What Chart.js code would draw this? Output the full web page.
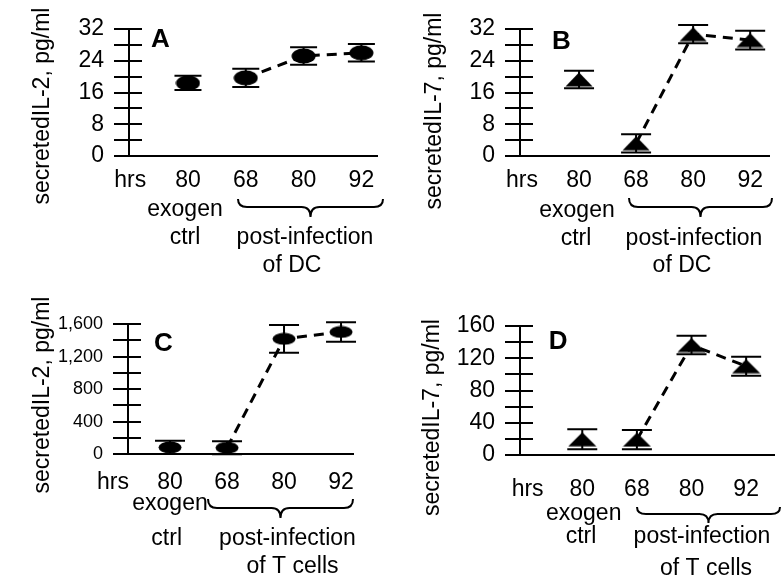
<!DOCTYPE html>
<html>
<head>
<meta charset="utf-8">
<title>Secreted IL-2 / IL-7</title>
<script src="https://cdn.jsdelivr.net/npm/chart.js@4.4.1/dist/chart.umd.min.js"></script>
<style>
  html, body { margin: 0; padding: 0; background: #fff; }
  #figure { position: relative; width: 783px; height: 587px; overflow: hidden; }
  #figure canvas { position: absolute; }
</style>
</head>
<body>
<div id="figure">
  <canvas id="panelA" width="392" height="290" style="left:0;top:0;width:392px;height:290px"></canvas>
  <canvas id="panelB" width="391" height="290" style="left:392px;top:0;width:391px;height:290px"></canvas>
  <canvas id="panelC" width="392" height="297" style="left:0;top:290px;width:392px;height:297px"></canvas>
  <canvas id="panelD" width="391" height="297" style="left:392px;top:290px;width:391px;height:297px"></canvas>
</div>
<script>
const FONT = '"Liberation Sans", Arial, Helvetica, sans-serif';

// x categories (index 0 is the "hrs" caption)
const hourLabels = ['hrs', '80', '68', '80', '92'];
const sampleIndex = [1, 2, 3, 4];          // exogen ctrl, 68 h, 80 h, 92 h
const postInfectionIndex = [2, 3, 4];      // points joined by the dashed line

// A - IL-2, infected DC
const il2DcMeans = [18.4, 19.7, 25.2, 26.0];
const il2DcErrors = [1.8, 2.3, 2.2, 2.2];
const il2DcTicks = [0, 8, 16, 24, 32];

// B - IL-7, infected DC
const il7DcMeans = [19.3, 3.2, 30.7, 29.2];
const il7DcErrors = [2.2, 2.3, 2.3, 2.35];
const il7DcTicks = [0, 8, 16, 24, 32];

// C - IL-2, infected T cells
const il2TMeans = [85, 80, 1418, 1502];
const il2TErrors = [80, 80, 170, 119];
const il2TTicks = [0, 400, 800, 1200, 1600];

// D - IL-7, infected T cells
const il7TMeans = [19.5, 19, 136.4, 110.1];
const il7TErrors = [12.4, 12, 11.5, 11.8];
const il7TTicks = [0, 40, 80, 120, 160];

const ctrlText = ['exogen', 'ctrl'];
const dcText = ['post-infection', 'of DC'];
const tCellText = ['post-infection', 'of T cells'];

Chart.defaults.font.family = FONT;
Chart.defaults.color = '#000';

function makeMarker(kind, w, h) {
    const c = document.createElement('canvas');
    c.width = w;
    c.height = h;
    const g = c.getContext('2d');
    g.fillStyle = '#000';
    g.beginPath();
    if (kind === 'ellipse') {
        g.ellipse(w / 2, h / 2, w / 2 - 0.5, h / 2 - 0.5, 0, 0, Math.PI * 2);
    } else {
        g.moveTo(w / 2, 0.5);
        g.lineTo(w - 0.5, h - 0.5);
        g.lineTo(0.5, h - 0.5);
        g.closePath();
    }
    g.fill();
    return c;
}

// layout: area = [left, top, right, bottom] of the plot box inside each canvas
const panels = [
    {
        id: 'panelA', letter: 'A', yTitle: 'secretedIL-2, pg/ml',
        means: il2DcMeans, errors: il2DcErrors, yTicks: il2DcTicks, yStep: 4, yFont: 23,
        marker: makeMarker('ellipse', 25, 16), cap: 27, group: dcText,
        w: 392, h: 290, area: [129, 29, 377, 156], xMin: -0.02, xMax: 4.27, tickPad: 10.5,
        title: [43, 106], letterPos: [151, 47],
        exo: [185, 216], ctrl: [185, 244], post: [305, 244], of: [292, 271.5],
        brace: [238, 383, 199, 207, 217]
    },
    {
        id: 'panelB', letter: 'B', yTitle: 'secretedIL-7, pg/ml',
        means: il7DcMeans, errors: il7DcErrors, yTicks: il7DcTicks, yStep: 4, yFont: 23,
        marker: makeMarker('triangle', 28, 15), cap: 30, group: dcText,
        w: 391, h: 290, area: [128, 29, 377, 156], xMin: -0.035, xMax: 4.33, tickPad: 10.5,
        title: [42.5, 111], letterPos: [160, 49.3],
        exo: [185, 216.7], ctrl: [184, 245], post: [302, 245], of: [290, 271.7],
        brace: [237, 380, 198, 207, 217]
    },
    {
        id: 'panelC', letter: 'C', yTitle: 'secretedIL-2, pg/ml',
        means: il2TMeans, errors: il2TErrors, yTicks: il2TTicks, yStep: 200, yFont: 18,
        marker: makeMarker('ellipse', 24, 13), cap: 30, group: tCellText,
        w: 392, h: 297, area: [128, 34, 353, 164.3], xMin: 0.263, xMax: 4.21, tickPad: 14.4,
        title: [43, 105], letterPos: [154, 61.3],
        exo: [170, 220], ctrl: [166.7, 255], post: [287.5, 255], of: [292.5, 283.3],
        brace: [208, 353, 209, 218, 228]
    },
    {
        id: 'panelD', letter: 'D', yTitle: 'secretedIL-7, pg/ml',
        means: il7TMeans, errors: il7TErrors, yTicks: il7TTicks, yStep: 20, yFont: 23,
        marker: makeMarker('triangle', 29, 15), cap: 30, group: tCellText,
        w: 391, h: 297, area: [128, 36, 391, 165], xMin: -0.14, xMax: 4.51, tickPad: 20.4,
        title: [41, 127.5], letterPos: [156.7, 59.3],
        exo: [191.7, 230], ctrl: [189, 253.3], post: [310, 253.3], of: [314, 285],
        brace: [245, 388, 217, 224, 233]
    }
];

function panelPlugin(p) {
    return {
        id: 'panelExtras' + p.letter,
        beforeDatasetsDraw(chart) {
            // error bars, under the markers
            const {ctx, scales: {x, y}} = chart;
            ctx.save();
            ctx.strokeStyle = '#000';
            ctx.lineWidth = 2;
            sampleIndex.forEach((xi, i) => {
                const px = x.getPixelForValue(xi);
                const top = y.getPixelForValue(p.means[i] + p.errors[i]);
                const bot = y.getPixelForValue(p.means[i] - p.errors[i]);
                ctx.beginPath();
                ctx.moveTo(px, top);
                ctx.lineTo(px, bot);
                ctx.moveTo(px - p.cap / 2, top);
                ctx.lineTo(px + p.cap / 2, top);
                ctx.moveTo(px - p.cap / 2, bot);
                ctx.lineTo(px + p.cap / 2, bot);
                ctx.stroke();
            });
            ctx.restore();
        },
        afterDraw(chart) {
            const {ctx, chartArea, scales: {y}} = chart;
            ctx.save();
            ctx.strokeStyle = '#000';
            ctx.fillStyle = '#000';

            // tick marks also cross to the inside of the y axis
            ctx.lineWidth = 2;
            ctx.beginPath();
            y.ticks.forEach(t => {
                const py = Math.round(y.getPixelForValue(t.value));
                ctx.moveTo(chartArea.left, py);
                ctx.lineTo(chartArea.left + 13, py);
            });
            ctx.stroke();

            // y title
            ctx.font = `23px ${FONT}`;
            ctx.save();
            ctx.translate(p.title[0], p.title[1]);
            ctx.rotate(-Math.PI / 2);
            ctx.textAlign = 'center';
            ctx.textBaseline = 'middle';
            ctx.fillText(p.yTitle, 0, 0);
            ctx.restore();

            // group captions under the axis
            ctx.textAlign = 'center';
            ctx.textBaseline = 'alphabetic';
            ctx.fillText(ctrlText[0], p.exo[0], p.exo[1]);
            ctx.fillText(ctrlText[1], p.ctrl[0], p.ctrl[1]);
            ctx.fillText(p.group[0], p.post[0], p.post[1]);
            ctx.fillText(p.group[1], p.of[0], p.of[1]);

            // curly brace over the post-infection samples
            const [x0, x1, yt, ym, yp] = p.brace;
            const xc = (x0 + x1) / 2;
            const r = 9;
            ctx.lineWidth = 2;
            ctx.beginPath();
            ctx.moveTo(x0, yt);
            ctx.quadraticCurveTo(x0, ym, x0 + r, ym);
            ctx.lineTo(xc - r, ym);
            ctx.quadraticCurveTo(xc, ym, xc, yp);
            ctx.quadraticCurveTo(xc, ym, xc + r, ym);
            ctx.lineTo(x1 - r, ym);
            ctx.quadraticCurveTo(x1, ym, x1, yt);
            ctx.stroke();

            // panel letter
            ctx.font = `bold 26px ${FONT}`;
            ctx.textAlign = 'left';
            ctx.fillText(p.letter, p.letterPos[0], p.letterPos[1]);
            ctx.restore();
        }
    };
}

panels.forEach(p => {
    const points = sampleIndex.map((xi, i) => ({x: xi, y: p.means[i]}));
    const dashed = postInfectionIndex.map(xi => ({x: xi, y: p.means[sampleIndex.indexOf(xi)]}));

    new Chart(document.getElementById(p.id), {
        type: 'line',
        data: {
            datasets: [
                {
                    data: points,
                    showLine: false,
                    pointStyle: p.marker,
                    pointRadius: 8,
                    clip: false
                },
                {
                    data: dashed,
                    borderColor: '#000',
                    borderWidth: 3,
                    borderDash: [10, 7],
                    pointRadius: 0,
                    fill: false,
                    tension: 0,
                    clip: false
                }
            ]
        },
        options: {
            responsive: false,
            animation: false,
            events: [],
            layout: {
                padding: {left: 0, top: p.area[1], right: p.w - p.area[2], bottom: 0}
            },
            plugins: {
                legend: {display: false},
                tooltip: {enabled: false}
            },
            scales: {
                x: {
                    type: 'linear',
                    min: p.xMin,
                    max: p.xMax,
                    afterBuildTicks: s => { s.ticks = hourLabels.map((_, i) => ({value: i})); },
                    afterFit: s => { s.height = p.h - p.area[3]; },
                    grid: {display: false, drawTicks: false},
                    border: {display: true, color: '#000', width: 2},
                    ticks: {
                        autoSkip: false,
                        maxRotation: 0,
                        padding: p.tickPad,
                        color: '#000',
                        font: {size: 23},
                        callback: v => hourLabels[v] ?? ''
                    }
                },
                y: {
                    min: 0,
                    max: p.yTicks[p.yTicks.length - 1],
                    afterFit: s => { s.width = p.area[0]; },
                    grid: {drawOnChartArea: false, drawTicks: true, tickLength: 15, lineWidth: 2, color: '#000'},
                    border: {display: true, color: '#000', width: 2},
                    ticks: {
                        stepSize: p.yStep,
                        autoSkip: false,
                        padding: 10,
                        color: '#000',
                        font: {size: p.yFont},
                        callback: v => p.yTicks.includes(v) ? v.toLocaleString('en-US') : ''
                    }
                }
            }
        },
        plugins: [panelPlugin(p)]
    });
});
</script>
</body>
</html>
